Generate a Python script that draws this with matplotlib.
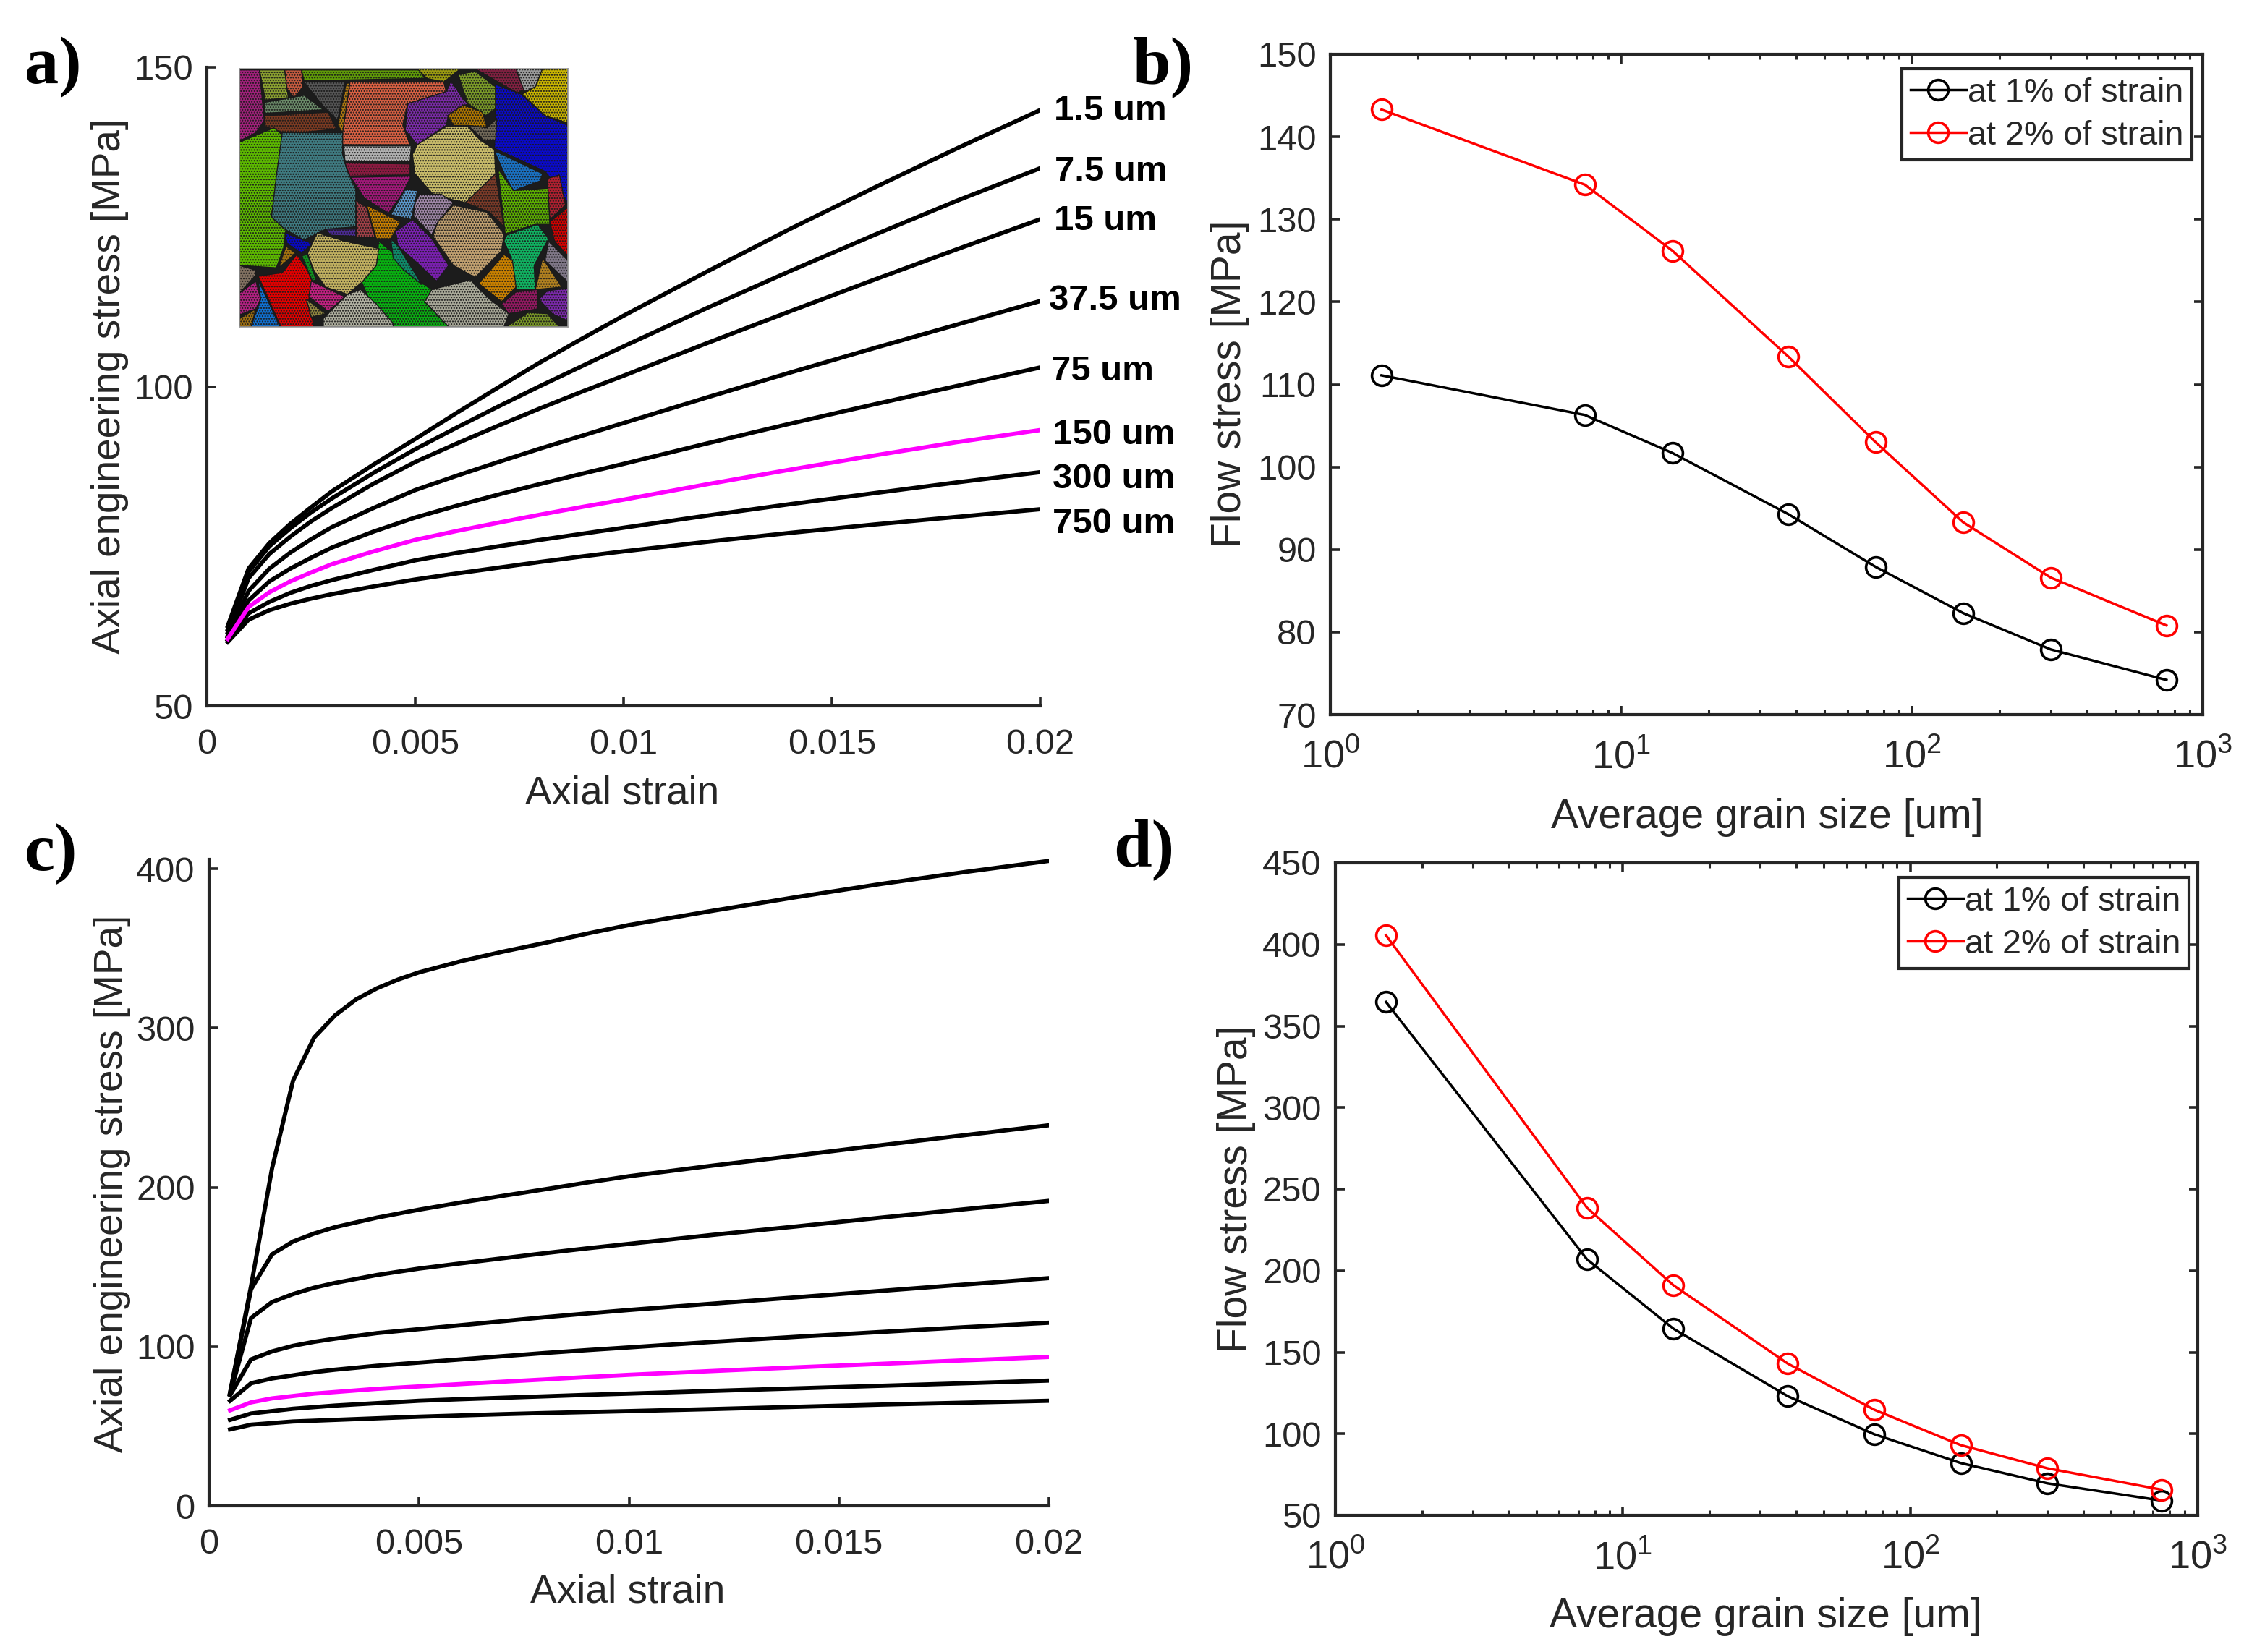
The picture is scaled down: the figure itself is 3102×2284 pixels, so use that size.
import matplotlib
matplotlib.use('Agg')
import matplotlib.pyplot as plt
from matplotlib.patches import Polygon
from matplotlib.ticker import LogLocator, NullFormatter

W, H = 3102, 2284
plt.rcParams['font.family'] = ['Liberation Sans', 'DejaVu Sans']
plt.rcParams['hatch.linewidth'] = 0.5

# stress-strain curves, panels a and c share the strain steps
strain = [0.0005, 0.001, 0.0015, 0.002, 0.0025, 0.003, 0.004, 0.005, 0.006, 0.007, 0.008, 0.009, 0.01,
          0.012, 0.014, 0.016, 0.018, 0.02]
a_15 = [62.5, 71.5, 75.5, 78.5, 81.1, 83.6, 87.8, 91.8, 95.9, 99.9, 103.8, 107.5, 111.1, 118.0, 124.7, 131.1, 137.3, 143.3]
a_75 = [62, 71, 75, 77.8, 80.3, 82.5, 86.5, 90.2, 93.6, 96.9, 100.1, 103.2, 106.3, 112.3, 118.1, 123.7, 129.1, 134.2]
a_150 = [61.5, 70, 73.8, 76.5, 78.9, 81, 84.8, 88.2, 91.1, 93.9, 96.6, 99.2, 101.7, 106.8, 111.8, 116.7, 121.5, 126.2]
a_375 = [61, 68, 71.5, 74, 76.1, 78, 81, 83.8, 86.05, 88.2, 90.3, 92.3, 94.3, 98.3, 102.2, 106, 109.7, 113.4]
a_750 = [60.8, 66.5, 69.5, 71.5, 73.2, 74.8, 77.3, 79.5, 81.35, 83.1, 84.75, 86.35, 87.9, 91.1, 94.2, 97.2, 100.1, 103]
a_1500 = [60.5, 65.5, 67.8, 69.5, 70.9, 72.2, 74.2, 76, 77.4, 78.7, 79.95, 81.15, 82.3, 84.7, 87, 89.2, 91.3, 93.2]
a_3000 = [60.3, 64.5, 66.3, 67.7, 68.8, 69.7, 71.3, 72.8, 73.95, 75, 76, 76.95, 77.9, 79.8, 81.6, 83.3, 85, 86.6]
a_7500 = [60, 63.5, 65, 66, 66.8, 67.5, 68.7, 69.8, 70.75, 71.65, 72.55, 73.4, 74.2, 75.7, 77.1, 78.4, 79.6, 80.8]
curve_names = ['1.5 um', '7.5 um', '15 um', '37.5 um', '75 um', '150 um', '300 um', '750 um']

# top curve of panel c bends hard, so it has two more steps
strain_top = [0.0005, 0.001, 0.0015, 0.002, 0.0025, 0.003, 0.0035, 0.004, 0.0045, 0.005, 0.006, 0.007, 0.008, 0.009, 0.01,
              0.012, 0.014, 0.016, 0.018, 0.02]
c_15 = [71, 138, 212, 267, 294, 308, 318, 325, 330.5, 335, 342, 348, 353.5, 359.3, 364.7, 373.7, 382.3, 390.5, 398, 405]
c_75 = [71, 136, 158, 166, 171, 175, 181, 186, 190.5, 194.7, 198.8, 203, 207, 213.7, 220, 226.5, 232.8, 239]
c_150 = [70, 118, 128, 133, 137, 140, 145, 149, 152.3, 155.5, 158.7, 161.7, 164.5, 170.2, 175.5, 181, 186.3, 191.5]
c_375 = [69.5, 92, 97, 100.5, 103, 105, 108.5, 111, 113.5, 116, 118.5, 120.8, 123, 127, 131, 135, 139, 143]
c_750 = [66, 77, 80, 82, 84, 85.5, 88, 90, 92, 94, 96, 97.8, 99.5, 103, 106.2, 109.2, 112.2, 115]
c_1500 = [60, 65, 67.5, 69, 70.5, 71.5, 73.5, 75, 76.5, 78, 79.4, 80.9, 82.3, 84.7, 87, 89.2, 91.4, 93.5]
c_3000 = [54, 58, 59.5, 61, 62, 63, 64.5, 66, 67, 67.9, 68.8, 69.7, 70.5, 72.2, 73.8, 75.4, 77, 78.7]
c_7500 = [48, 51, 52, 53, 53.5, 54, 55, 56, 56.8, 57.6, 58.3, 58.9, 59.5, 60.8, 62.2, 63.6, 64.8, 66]

# panels b and d: flow stress vs grain size
grain_size = [1.5, 7.5, 15, 37.5, 75, 150, 300, 750]
b_1pct = [111.1, 106.3, 101.7, 94.3, 87.9, 82.3, 77.9, 74.2]
b_2pct = [143.3, 134.2, 126.2, 113.4, 103, 93.3, 86.6, 80.8]
d_1pct = [364.7, 207, 164.4, 123, 99.7, 82, 69.6, 59]
d_2pct = [405.6, 238.6, 191, 143, 114.7, 93, 78.8, 65.7]

# inset grains
grains = [
    ('#a0207a', [(62,50),(145,50),(165,260),(130,310),(62,345)]),
    ('#8aa030', [(145,50),(250,50),(265,165),(170,175)]),
    ('#c0583e', [(250,50),(320,50),(325,120),(290,165),(260,130)]),
    ('#5f9a08', [(320,50),(810,50),(830,85),(330,95)]),
    ('#9a9a10', [(800,45),(980,45),(910,100),(840,85)]),
    ('#6c8c6a', [(165,185),(330,155),(410,215),(165,230)]),
    ('#7a3a22', [(165,240),(430,225),(465,295),(260,315),(170,285)]),
    ('#555555', [(330,100),(500,100),(470,260),(410,200)]),
    ('#d65f42', [(520,100),(910,100),(920,140),(760,190),(740,280),(770,360),(490,360),(490,310)]),
    ('#b07a10', [(505,105),(520,105),(490,310),(470,280)]),
    ('#7b2aa8', [(760,190),(920,140),(940,95),(990,170),(1010,190),(930,240),(920,280),(800,360),(750,300)]),
    ('#7a9a28', [(970,70),(1040,55),(1125,120),(1125,210),(1085,240),(1010,190)]),
    ('#7f2040', [(1040,45),(1210,45),(1245,130),(1215,145)]),
    ('#9a9a9a', [(1210,45),(1320,45),(1290,120),(1245,140)]),
    ('#c8b400', [(1320,45),(1425,45),(1425,270),(1330,240),(1235,150),(1290,120)]),
    ('#0a0ac8', [(1125,110),(1230,150),(1330,240),(1425,280),(1425,610),(1400,560),(1330,470),(1120,375),(1125,280)]),
    ('#b07800', [(925,240),(990,195),(1070,225),(1090,290),(1010,280),(950,280)]),
    ('#706858', [(1010,280),(1090,290),(1130,250),(1125,340),(1080,345)]),
    ('#c8bb6a', [(780,400),(800,360),(920,285),(1010,285),(1060,340),(1120,380),(1125,480),(1000,600),(870,570),(790,480)]),
    ('#1a70c0', [(1120,385),(1320,480),(1310,510),(1200,550),(1170,500)]),
    ('#5cb800', [(62,350),(205,290),(240,320),(195,660),(255,710),(245,790),(215,870),(62,860)]),
    ('#3f7a80', [(240,310),(490,310),(490,400),(510,470),(545,545),(545,700),(420,710),(330,755),(250,710),(195,660),(215,490)]),
    ('#b0b0b0', [(495,365),(775,365),(770,430),(500,430)]),
    ('#8a1a40', [(500,435),(770,440),(770,485),(520,490)]),
    ('#a01878', [(525,495),(775,490),(740,560),(680,645),(580,580)]),
    ('#5a96c8', [(750,545),(800,550),(790,600),(775,670),(690,650)]),
    ('#a088a8', [(790,600),(810,565),(900,565),(950,600),(880,690),(860,735),(785,655)]),
    ('#7a3a28', [(1000,600),(1125,480),(1150,640),(1160,700),(1100,640)]),
    ('#c0a070', [(950,610),(1090,640),(1160,730),(1150,800),(1040,910),(950,860),(865,740),(885,680)]),
    ('#5cb000', [(1135,460),(1200,550),(1345,540),(1350,690),(1290,690),(1165,730)]),
    ('#b02030', [(1340,500),(1390,485),(1415,610),(1350,670)]),
    ('#d00000', [(1350,680),(1425,620),(1425,820),(1370,760)]),
    ('#10b060', [(1160,760),(1170,735),(1300,690),(1345,750),(1285,860),(1290,960),(1210,960),(1190,830)]),
    ('#807888', [(1345,760),(1425,840),(1425,930),(1330,840)]),
    ('#c88000', [(1055,935),(1160,815),(1195,840),(1210,950),(1150,1010)]),
    ('#b08020', [(1290,960),(1320,830),(1400,950)]),
    ('#901860', [(1150,1020),(1210,970),(1300,960),(1300,1040),(1180,1060)]),
    ('#7a28a8', [(1305,1000),(1340,965),(1425,955),(1425,1090),(1360,1060)]),
    ('#7a9828', [(1170,1115),(1260,1055),(1340,1060),(1390,1115)]),
    ('#a8a898', [(830,1010),(860,960),(1020,920),(1100,1000),(1180,1060),(1160,1115),(930,1115)]),
    ('#08b010', [(640,760),(690,800),(800,920),(860,960),(830,1010),(930,1115),(700,1115),(600,1000),(570,930),(630,860)]),
    ('#7a20b0', [(710,720),(780,670),(860,750),(930,860),(880,925),(800,850),(720,780)]),
    ('#108868', [(690,750),(720,780),(820,940),(745,880),(700,830)]),
    ('#c88000', [(590,610),(730,680),(690,750),(630,750)]),
    ('#a04048', [(545,590),(590,620),(625,745),(550,745)]),
    ('#c0b060', [(345,810),(385,725),(500,760),(640,790),(630,860),(570,930),(510,980),(420,950),(370,880)]),
    ('#0808c0', [(250,725),(365,770),(320,810),(260,770)]),
    ('#a07010', [(225,870),(255,780),(295,810)]),
    ('#e00000', [(140,905),(240,890),(300,815),(345,880),(365,930),(350,1000),(370,1115),(235,1115)]),
    ('#109020', [(320,820),(345,815),(380,920),(365,925)]),
    ('#c02080', [(360,925),(500,990),(430,1050),(350,990)]),
    ('#b0b0a0', [(410,1080),(450,1040),(510,980),(565,960),(630,1020),(700,1100),(700,1115),(410,1115)]),
    ('#1070d0', [(110,1115),(150,1000),(140,920),(230,1115)]),
    ('#b02080', [(62,975),(130,925),(150,1000),(130,1040),(62,1065)]),
    ('#807060', [(62,860),(130,880),(130,900),(62,975)]),
    ('#908840', [(340,1000),(420,1060),(360,1075)]),
    ('#4a2a90', [(420,710),(545,710),(545,740),(440,735)]),
    ('#a07010', [(62,1080),(130,1040),(110,1115),(62,1115)]),
]

DARK = '#262626'


def make_axes(fig, left, right, top, bottom):
    return fig.add_axes([left / W, 1 - bottom / H, (right - left) / W, (bottom - top) / H])


def place_labels(ax, fig, xlabel, xpos, ylabel, ypos, size):
    ax.set_xlabel(xlabel, fontsize=size, color=DARK, va='center', ha='center')
    ax.set_ylabel(ylabel, fontsize=size, color=DARK, va='center', ha='center')
    ax.xaxis.set_label_coords(xpos[0] / W, 1 - xpos[1] / H, transform=fig.transFigure)
    ax.yaxis.set_label_coords(ypos[0] / W, 1 - ypos[1] / H, transform=fig.transFigure)


def style_curves(ax):
    for s in ['top', 'right']:
        ax.spines[s].set_visible(False)
    for s in ['left', 'bottom']:
        ax.spines[s].set_linewidth(1.5)
        ax.spines[s].set_color(DARK)
    ax.tick_params(direction='in', length=4.5, width=1.3, color=DARK, labelcolor=DARK, labelsize=17.6)
    ax.tick_params(axis='x', pad=11)
    ax.tick_params(axis='y', pad=7)
    ax.set_xlim(0, 0.02)
    ax.set_xticks([0, 0.005, 0.01, 0.015, 0.02])
    ax.set_xticklabels(['0', '0.005', '0.01', '0.015', '0.02'])


def flow_panel(ax, y1, y2, ylim, yticks, legend_xy):
    ax.semilogx(grain_size, y1, '-o', color='black', lw=1.25, ms=10, mfc='none', mew=1.3,
                label='at 1% of strain')
    ax.semilogx(grain_size, y2, '-o', color='red', lw=1.25, ms=10, mfc='none', mew=1.3,
                label='at 2% of strain')
    ax.set_xlim(1, 1000)
    ax.set_ylim(*ylim)
    ax.set_yticks(yticks)
    ax.xaxis.set_major_locator(LogLocator(base=10, numticks=5))
    ax.xaxis.set_minor_locator(LogLocator(base=10, subs=range(2, 10), numticks=5))
    ax.xaxis.set_minor_formatter(NullFormatter())
    for s in ax.spines.values():
        s.set_linewidth(1.5)
        s.set_color(DARK)
    ax.tick_params(which='major', direction='in', length=4.5, width=1.3, color=DARK,
                   labelcolor=DARK, labelsize=17.6, top=True, right=True)
    ax.tick_params(axis='x', which='major', labelsize=19.5, pad=12)
    ax.tick_params(axis='y', which='major', pad=7)
    ax.tick_params(which='minor', direction='in', length=2.5, width=1.1, color=DARK,
                   top=True)
    leg = ax.legend(loc='upper left', bbox_to_anchor=(legend_xy[0] / W, 1 - legend_xy[1] / H),
                    bbox_transform=fig.transFigure, fontsize=16.8, fancybox=False, framealpha=1,
                    edgecolor=DARK, borderaxespad=0, borderpad=0.25, labelspacing=0.32,
                    handlelength=1.65, handletextpad=0.05, labelcolor=DARK)
    leg.get_frame().set_linewidth(1.5)


fig = plt.figure(figsize=(W / 200, H / 200), dpi=200)

# a)
ax_a = make_axes(fig, 286, 1438, 93, 976)
a_curves = [a_15, a_75, a_150, a_375, a_750, a_1500, a_3000, a_7500]
for i, vals in enumerate(a_curves):
    ax_a.plot(strain, vals, color='magenta' if curve_names[i] == '150 um' else 'black', lw=2.1,
              zorder=3 if curve_names[i] == '150 um' else 2)
style_curves(ax_a)
ax_a.set_ylim(50, 150)
ax_a.set_yticks([50, 100, 150])
place_labels(ax_a, fig, 'Axial strain', (860, 1098), 'Axial engineering stress [MPa]', (152, 534), 19.7)

label_x = [1457, 1458, 1457, 1450, 1453, 1455, 1455, 1455]
label_y = [154, 237, 306, 415, 513, 601, 662, 725]
for name, lx, ly in zip(curve_names, label_x, label_y):
    fig.text(lx / W, 1 - ly / H, name, fontsize=17.7, fontweight='bold', va='center', color='black')

# inset mesh
ax_in = make_axes(fig, 331, 785, 95, 452)
ax_in.set_xlim(62, 1425)
ax_in.set_ylim(1115, 45)
ax_in.set_facecolor('#1c1c1c')
ax_in.set_xticks([])
ax_in.set_yticks([])
for s in ax_in.spines.values():
    s.set_linewidth(0.6)
    s.set_color('#999999')
for col, pts in grains:
    ax_in.add_patch(Polygon(pts, closed=True, facecolor=col, edgecolor='#1a1a1a', hatch='.........', lw=0.5))

# b)
ax_b = make_axes(fig, 1839, 3045, 75, 988)
flow_panel(ax_b, b_1pct, b_2pct, (70, 150), range(70, 151, 10), (2629, 95))
place_labels(ax_b, fig, 'Average grain size [um]', (2443, 1130), 'Flow stress [MPa]', (1700, 531), 20.5)

# c)
ax_c = make_axes(fig, 289, 1450, 1188, 2082)
c_curves = [c_75, c_150, c_375, c_750, c_1500, c_3000, c_7500]
ax_c.plot(strain_top, c_15, color='black', lw=2.1)
for i, vals in enumerate(c_curves):
    name = curve_names[i + 1]
    ax_c.plot(strain, vals, color='magenta' if name == '150 um' else 'black', lw=2.1,
              zorder=3 if name == '150 um' else 2)
style_curves(ax_c)
ax_c.set_ylim(0, 406)
ax_c.set_yticks([0, 100, 200, 300, 400])
place_labels(ax_c, fig, 'Axial strain', (868, 2202), 'Axial engineering stress [MPa]', (155, 1636), 19.8)

# d)
ax_d = make_axes(fig, 1846, 3038, 1193, 2095)
flow_panel(ax_d, d_1pct, d_2pct, (50, 450), range(50, 451, 50), (2625, 1213))
place_labels(ax_d, fig, 'Average grain size [um]', (2441, 2235), 'Flow stress [MPa]', (1709, 1644), 20.5)

# panel letters
letter_font = ['Liberation Serif', 'DejaVu Serif']
for letter, lx, ly in [('a)', 34, 93), ('b)', 1566, 93), ('c)', 34, 1181), ('d)', 1539, 1175)]:
    fig.text(lx / W, 1 - ly / H, letter, fontsize=34, fontweight='bold', family=letter_font,
             va='center', color='black')

fig.savefig('out.png', dpi=200)
